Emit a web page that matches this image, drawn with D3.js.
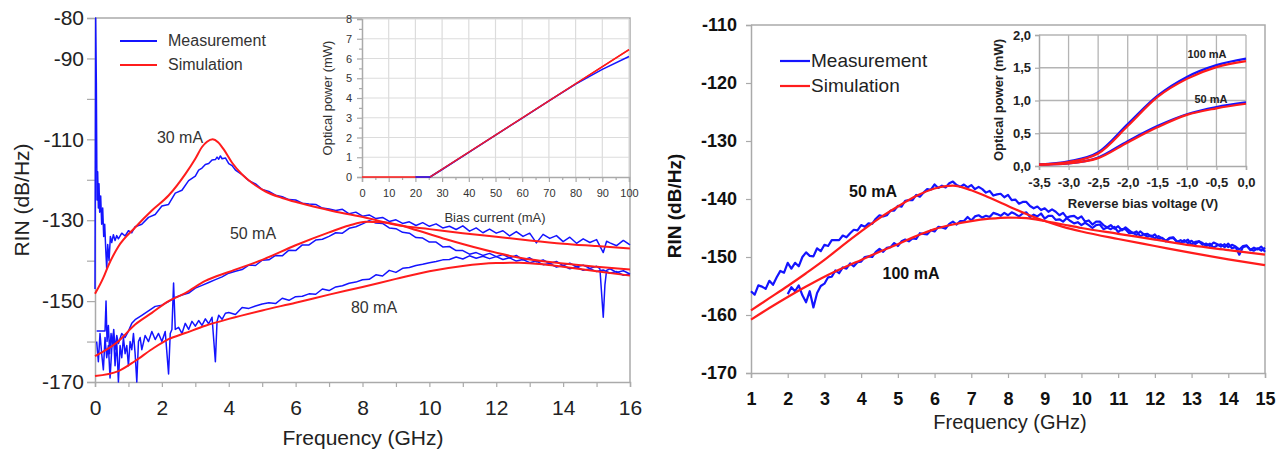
<!DOCTYPE html>
<html>
<head>
<meta charset="utf-8">
<script src="https://cdn.jsdelivr.net/npm/d3@7"></script>
<style>
  body { margin: 0; background: #fff; }
  svg { display: block; font-family: "Liberation Sans", Arial, sans-serif; }
</style>
</head>
<body>
<div id="container"></div>
<script>
/**
 * DATA
 * */
// left panel: RIN vs frequency, bias 30 / 50 / 80 mA
const leftXTicks = [0, 2, 4, 6, 8, 10, 12, 14, 16];
const leftYTicks = [-80, -90, -100, -110, -120, -130, -140, -150, -160, -170];
const leftYLabels = [-80, -90, -110, -130, -150, -170];

const meas30 = [[0,-147],[0.02,-80],[0.04,-96],[0.06,-125],[0.08,-118],[0.1,-127],[0.12,-121],[0.14,-128],[0.17,-124],[0.2,-131],[0.23,-127],[0.26,-134],[0.29,-131],[0.32,-137],[0.35,-142],[0.38,-136],[0.42,-140],[0.46,-134],[0.5,-135.5],[0.55,-133.6],[0.6,-135],[0.65,-133.8],[0.7,-134.6],[0.8,-133.2],[0.9,-133.9],[1.0,-132.6],[1.1,-133.1],
  [1.2,-131.6],[1.4,-131.0],[1.6,-129.3],[1.8,-128.6],[2.0,-126.5],[2.2,-126.1],[2.4,-123.3],[2.6,-122.6],[2.8,-120.2],[3.0,-119.1],[3.1,-117.6],[3.2,-117.1],[3.3,-116.2],[3.4,-116.0],[3.5,-115.1],[3.6,-115.0],[3.65,-114.4],[3.7,-114.9],[3.75,-114.1],[3.8,-114.8],[3.9,-114.6],[4.0,-116.0],[4.1,-116.5],[4.2,-117.6],[4.4,-118.7],[4.6,-120.2],[4.8,-121.0],[5.0,-122.4],[5.2,-122.9],[5.4,-123.8],[5.6,-124.2],[5.8,-124.9],[6.0,-125.0],[6.2,-125.8],[6.4,-126.0],[6.6,-126.1],[6.8,-127.0],[7.0,-127.2],[7.2,-127.6],[7.4,-127.3],[7.6,-128.4],[7.8,-128.0],[8.0,-129.0],[8.2,-128.7],[8.4,-129.6],[8.6,-129.3],[8.8,-130.3],[9.0,-129.9],[9.2,-130.8],[9.4,-130.4],[9.6,-131.3],[9.8,-130.6],[10.0,-131.5],[10.2,-130.9],[10.4,-131.9],[10.6,-131.5],[10.8,-132.3],[11.0,-131.4],[11.2,-132.7],[11.4,-131.9],[11.6,-133.1],[11.8,-132.2],[12.0,-133.2],[12.2,-132.6],[12.4,-133.9],[12.6,-132.8],[12.8,-134.0],[13.0,-133.2],[13.2,-135.6],[13.4,-133.5],[13.6,-134.5],[13.8,-133.8],[14.0,-135.3],[14.2,-134.2],[14.4,-135.7],[14.6,-134.6],[14.8,-135.5],[15.0,-134.8],[15.2,-138.0],[15.3,-135.2],[15.4,-135.6],[15.6,-136.3],[15.8,-135.0],[16.0,-136.1]];

const meas50 = [[0.05,-157.4],[0.3,-157.4],[0.33,-150],[0.36,-160],[0.4,-156],[0.44,-163],[0.48,-158],[0.52,-161],[0.56,-157],[0.6,-162],[0.65,-158.5],[0.7,-160.5],[0.8,-158],[0.9,-159],[1.0,-157.4],[1.1,-155.5],
  [1.2,-154.6],[1.4,-153.5],[1.6,-152.4],[1.8,-151.3],[2.0,-151.0],[2.2,-150.1],[2.4,-149.1],[2.6,-148.5],[2.8,-148.0],[3.0,-146.8],[3.2,-146.1],[3.4,-145.4],[3.6,-144.7],[3.8,-144.0],[4.0,-143.1],[4.2,-142.6],[4.4,-142.2],[4.6,-141.1],[4.8,-141.2],[5.0,-139.9],[5.2,-139.8],[5.4,-138.7],[5.6,-138.8],[5.8,-137.4],[6.0,-137.5],[6.2,-136.1],[6.4,-136.1],[6.6,-134.9],[6.8,-134.7],[7.0,-134.0],[7.2,-133.1],[7.4,-133.2],[7.6,-132.0],[7.8,-131.6],[8.0,-130.9],[8.2,-130.1],[8.4,-130.7],[8.6,-130.8],[8.8,-131.9],[9.0,-132.1],[9.2,-133.0],[9.4,-133.2],[9.6,-134.3],[9.8,-134.4],[10.0,-135.4],[10.2,-135.4],[10.4,-136.6],[10.6,-136.5],[10.8,-137.5],[11.0,-137.5],[11.2,-138.4],[11.4,-138.0],[11.6,-138.7],[11.8,-138.2],[12.0,-139.0],[12.2,-138.5],[12.4,-139.3],[12.6,-138.7],[12.8,-139.8],[13.0,-139.3],[13.2,-140.3],[13.4,-139.8],[13.6,-140.7],[13.8,-140.2],[14.0,-141.2],[14.2,-140.6],[14.4,-141.5],[14.6,-141.1],[14.8,-141.9],[15.0,-141.4],[15.1,-142.0],[15.15,-148],[15.2,-154],[15.25,-146],[15.3,-142.4],[15.4,-142.0],[15.6,-142.9],[15.8,-142.5],[16.0,-143.3]];

const meas80 = [[0.05,-160],[0.1,-165],[0.15,-158],[0.2,-163],[0.25,-167],[0.3,-159],[0.35,-164],[0.4,-161],[0.45,-169],[0.5,-162],[0.55,-158],[0.6,-166],[0.65,-160],[0.7,-170],[0.75,-161],[0.8,-164],[0.85,-159],[0.9,-163],[0.95,-161],[1.0,-166],[1.05,-160],[1.1,-162],[1.15,-158],[1.2,-163],[1.25,-170],[1.3,-160],[1.35,-159],[1.4,-162],[1.5,-158.5],[1.6,-160],[1.7,-157.5],[1.8,-159.5],[1.9,-158],[2.0,-160],[2.1,-157.5],[2.2,-168],[2.25,-158],[2.3,-157],[2.35,-145.5],[2.4,-157],[2.5,-156.5],[2.6,-158],[2.7,-155.5],[2.8,-157],[2.9,-155],[3.0,-156.2],[3.1,-154.8],[3.2,-156],[3.3,-154.4],[3.4,-155.6],[3.5,-154],[3.6,-165],[3.65,-155],[3.7,-153.5],[3.8,-154.5],[3.9,-153],
  [4.0,-152.8],[4.2,-153.3],[4.4,-151.6],[4.6,-151.8],[4.8,-151.2],[5.0,-150.7],[5.2,-150.4],[5.4,-150.6],[5.6,-149.3],[5.8,-149.8],[6.0,-148.9],[6.2,-148.8],[6.4,-148.2],[6.6,-148.3],[6.8,-147.0],[7.0,-147.4],[7.2,-146.5],[7.4,-146.2],[7.6,-145.6],[7.8,-145.3],[8.0,-144.7],[8.2,-144.6],[8.4,-143.5],[8.6,-143.8],[8.8,-142.4],[9.0,-142.9],[9.2,-141.9],[9.4,-141.7],[9.6,-141.2],[9.8,-140.9],[10.0,-140.5],[10.2,-140.2],[10.4,-139.8],[10.6,-139.7],[10.8,-139.1],[11.0,-139.6],[11.2,-138.8],[11.4,-139.4],[11.6,-138.9],[11.8,-139.5],[12.0,-139.0],[12.2,-139.7],[12.4,-139.3],[12.6,-140.1],[12.8,-139.7],[13.0,-140.5],[13.2,-140.1],[13.4,-141.0],[13.6,-140.7],[13.8,-141.6],[14.0,-141.2],[14.2,-142.0],[14.4,-141.5],[14.6,-142.4],[14.8,-142.0],[15.0,-142.7],[15.2,-142.3],[15.4,-143.1],[15.6,-142.7],[15.8,-143.6],[16.0,-143.3]];

const sim30 = [[0,-148.2],[0.25,-144.2],[0.4,-141.2],[0.7,-136.5],[1.2,-131.8],[1.7,-127.6],[2.2,-123.9],[2.7,-118.6],[3.0,-114.8],[3.2,-111.9],[3.35,-110.6],[3.52,-110.0],[3.68,-110.7],[3.85,-112.5],[4.1,-115.8],[4.4,-118.7],[4.7,-120.8],[5.1,-122.9],[5.6,-124.5],[6.1,-125.7],[7.1,-127.7],[8.1,-129.4],[9.1,-131.3],[10.0,-132.2],[11.0,-133.2],[12.0,-134.1],[13.0,-135.0],[14.0,-135.8],[15.0,-136.4],[16.0,-137.0]];
const sim50 = [[0,-163.6],[0.7,-159.9],[1.2,-155.8],[1.7,-152.9],[2.2,-150.0],[2.7,-148.0],[3.3,-145.0],[4.0,-142.8],[5.0,-139.8],[6.0,-136.2],[7.0,-133.0],[7.6,-131.3],[8.1,-130.4],[8.6,-130.5],[9.1,-131.2],[9.6,-132.4],[10.5,-134.7],[11.5,-137.0],[12.7,-139.3],[14.0,-140.7],[15.0,-141.5],[16.0,-142.2]];
const sim80 = [[0,-168.5],[0.7,-167.3],[1.2,-164.8],[1.7,-161.9],[2.2,-159.4],[2.7,-157.9],[3.3,-156.1],[4.0,-154.4],[5.0,-152.3],[6.0,-150.4],[7.0,-148.4],[8.0,-146.5],[9.0,-144.5],[10.0,-142.6],[11.0,-141.3],[12.0,-140.6],[12.7,-140.5],[13.5,-141.0],[14.0,-141.5],[15.0,-142.6],[16.0,-143.7]];

// left inset: optical power vs bias current
const insetLXTicks = [0, 10, 20, 30, 40, 50, 60, 70, 80, 90, 100];
const insetLYTicks = [0, 1, 2, 3, 4, 5, 6, 7, 8];
const liSim = [[0,0],[25.5,0],[100,6.45]];
const liMeas = [[20,0],[25.5,0],[30,0.38],[40,1.25],[50,2.12],[60,2.98],[70,3.85],[80,4.7],[90,5.45],[100,6.1]];

// right panel: RIN vs frequency, bias 50 / 100 mA
const rightXTicks = [1,2,3,4,5,6,7,8,9,10,11,12,13,14,15];
const rightYTicks = [-110, -120, -130, -140, -150, -160, -170];

const rMeas50 = [[1.0,-155.9],[1.1,-156.5],[1.2,-154.9],[1.3,-155.1],[1.4,-155.5],[1.5,-154.1],[1.6,-154.8],[1.7,-153.5],[1.8,-152.4],[1.9,-152.7],[2.0,-151.0],[2.1,-152.0],[2.2,-151.0],[2.3,-151.6],[2.4,-150.0],[2.5,-149.2],[2.6,-149.8],[2.7,-149.9],[2.8,-148.5],[2.9,-149.0],
  [3.0,-147.9],[3.1,-148.1],[3.2,-147.1],[3.3,-147.1],[3.4,-147.1],[3.5,-146.3],[3.6,-146.6],[3.7,-145.9],[3.8,-145.3],[3.9,-145.4],[4.0,-144.5],[4.1,-144.8],[4.2,-144.2],[4.3,-144.3],[4.4,-143.4],[4.5,-142.8],[4.6,-143.0],[4.7,-142.8],[4.8,-142.0],[4.9,-142.0],
  [5.0,-141.2],[5.1,-141.3],[5.2,-140.3],[5.3,-140.2],[5.4,-140.2],[5.5,-139.3],[5.6,-139.6],[5.7,-138.9],[5.8,-138.3],[5.9,-138.4],[6.0,-137.5],[6.1,-138.1],[6.2,-137.7],[6.3,-138.0],[6.4,-137.3],[6.5,-137.0],[6.6,-137.6],[6.7,-137.9],[6.8,-137.5],[6.9,-138.0],
  [7.0,-137.6],[7.1,-138.3],[7.2,-137.9],[7.3,-138.3],[7.4,-138.9],[7.5,-138.6],[7.6,-139.4],[7.7,-139.2],[7.8,-139.1],[7.9,-139.7],[8.0,-139.3],[8.1,-140.2],[8.2,-140.1],[8.3,-140.8],[8.4,-140.5],[8.5,-140.5],[8.6,-141.2],[8.7,-141.6],[8.8,-141.3],[8.9,-141.9],
  [9.0,-141.6],[9.1,-142.2],[9.2,-141.8],[9.3,-142.2],[9.4,-142.8],[9.5,-142.4],[9.6,-143.2],[9.7,-143.0],[9.8,-142.9],[9.9,-143.4],[10.0,-143.0],[10.1,-143.9],[10.2,-143.7],[10.3,-144.4],[10.4,-143.9],[10.5,-143.9],[10.6,-144.5],[10.7,-144.9],[10.8,-144.5],[10.9,-145.1],
  [11.0,-144.7],[11.1,-145.4],[11.2,-144.9],[11.3,-145.4],[11.4,-145.9],[11.5,-145.6],[11.6,-146.4],[11.7,-146.1],[11.8,-146.0],[11.9,-146.5],[12.0,-146.1],[12.1,-146.9],[12.2,-146.7],[12.3,-147.3],[12.4,-146.8],[12.5,-146.7],[12.6,-147.3],[12.7,-147.6],[12.8,-147.1],[12.9,-147.6],
  [13.0,-147.2],[13.1,-147.8],[13.2,-147.3],[13.3,-147.6],[13.4,-148.1],[13.5,-147.7],[13.6,-148.4],[13.7,-148.0],[13.8,-147.8],[13.9,-148.3],[14.0,-147.7],[14.1,-148.5],[14.2,-148.3],[14.3,-149.6],[14.4,-148.3],[14.5,-148.1],[14.6,-148.7],[14.7,-148.9],[14.8,-148.5],[14.9,-148.9],[15.0,-148.4]];

const rMeas100 = [[2.0,-156.4],[2.1,-155.2],[2.2,-155.9],[2.3,-154.9],[2.4,-156.6],[2.5,-157.8],[2.6,-155.9],[2.7,-158.7],[2.8,-156.2],[2.9,-155.0],
  [3.0,-154.6],[3.1,-153.5],[3.2,-153.4],[3.3,-152.3],[3.4,-152.8],[3.5,-151.8],[3.6,-152.0],[3.7,-151.1],[3.8,-151.6],[3.9,-150.9],[4.0,-150.8],[4.1,-150.0],[4.2,-149.9],[4.3,-150.0],[4.4,-149.1],[4.5,-148.6],[4.6,-149.1],[4.7,-148.4],[4.8,-148.3],[4.9,-147.6],
  [5.0,-148.1],[5.1,-147.3],[5.2,-147.0],[5.3,-147.3],[5.4,-146.8],[5.5,-146.9],[5.6,-145.9],[5.7,-146.0],[5.8,-146.1],[5.9,-145.4],[6.0,-145.6],[6.1,-144.8],[6.2,-144.9],[6.3,-145.1],[6.4,-144.3],[6.5,-143.9],[6.6,-144.4],[6.7,-143.8],[6.8,-143.8],[6.9,-143.1],
  [7.0,-143.7],[7.1,-143.0],[7.2,-142.8],[7.3,-143.2],[7.4,-142.9],[7.5,-143.1],[7.6,-142.4],[7.7,-142.6],[7.8,-142.9],[7.9,-142.4],[8.0,-142.8],[8.1,-142.3],[8.2,-142.6],[8.3,-143.0],[8.4,-142.5],[8.5,-142.3],[8.6,-143.1],[8.7,-142.7],[8.8,-143.0],[8.9,-142.5],
  [9.0,-143.4],[9.1,-142.9],[9.2,-142.9],[9.3,-143.6],[9.4,-143.5],[9.5,-143.9],[9.6,-143.3],[9.7,-143.8],[9.8,-144.2],[9.9,-144.0],[10.0,-144.5],[10.1,-144.1],[10.2,-144.5],[10.3,-145.0],[10.4,-144.5],[10.5,-144.4],[10.6,-145.2],[10.7,-144.9],[10.8,-145.2],[10.9,-144.8],
  [11.0,-145.7],[11.1,-145.2],[11.2,-145.2],[11.3,-145.9],[11.4,-145.8],[11.5,-146.2],[11.6,-145.6],[11.7,-146.1],[11.8,-146.5],[11.9,-146.3],[12.0,-146.8],[12.1,-146.4],[12.2,-146.8],[12.3,-147.2],[12.4,-146.7],[12.5,-146.6],[12.6,-147.4],[12.7,-147.1],[12.8,-147.4],[12.9,-147.0],
  [13.0,-147.9],[13.1,-147.4],[13.2,-147.3],[13.3,-147.9],[13.4,-147.7],[13.5,-148.1],[13.6,-147.5],[13.7,-147.8],[13.8,-148.2],[13.9,-147.8],[14.0,-148.3],[14.1,-147.9],[14.2,-148.2],[14.3,-148.7],[14.4,-148.1],[14.5,-148.0],[14.6,-148.8],[14.7,-148.4],[14.8,-148.7],[14.9,-148.2],[15.0,-149.1]];

const rSim50 = [[1.0,-159.2],[1.5,-157.1],[2.0,-155.0],[2.5,-152.8],[3.0,-150.5],[3.5,-148.0],[4.0,-145.6],[4.5,-143.3],[5.0,-141.3],[5.5,-139.5],[6.0,-138.2],[6.5,-137.7],[7.0,-138.5],[7.5,-139.8],[8.0,-141.2],[8.5,-142.6],[9.0,-143.8],[9.5,-144.8],[10.0,-145.6],[11.0,-146.9],[12.0,-148.1],[13.0,-149.3],[14.0,-150.4],[15.0,-151.4]];
const rSim100 = [[1.0,-160.8],[1.5,-158.8],[2.0,-156.9],[2.5,-155.1],[3.0,-153.4],[3.5,-151.9],[4.0,-150.5],[4.5,-149.1],[5.0,-147.8],[5.5,-146.4],[6.0,-145.2],[6.5,-144.4],[7.0,-143.8],[7.5,-143.4],[8.0,-143.2],[8.5,-143.3],[9.0,-143.8],[9.5,-144.4],[10.0,-145.0],[11.0,-146.0],[12.0,-147.0],[13.0,-148.0],[14.0,-148.8],[15.0,-149.6]];

// right inset: optical power vs reverse bias voltage
const riVolt = [-3.5, -3.0, -2.5, -2.0, -1.5, -1.0, -0.5, 0.0];
const riMeas100 = [0.02, 0.07, 0.21, 0.64, 1.07, 1.36, 1.54, 1.64];
const riSim100 = [0.02, 0.06, 0.19, 0.61, 1.05, 1.33, 1.51, 1.60];
const riMeas50 = [0.02, 0.04, 0.13, 0.38, 0.61, 0.79, 0.90, 0.97];
const riSim50 = [0.02, 0.04, 0.12, 0.36, 0.59, 0.78, 0.88, 0.95];
const riYTicks = [0, 0.5, 1, 1.5, 2];

/**
 * SETUP
 * */
const width = 1284, height = 451;
const BLUE = '#1414ff', RED = '#ff1c1c', FRAME = '#aaaaaa';
const FONT = '"Liberation Sans", Arial, sans-serif';
const comma = d => d.toFixed(1).replace('.', ',');   // plain hyphen, decimal comma
const plain = d => String(d);

const svg = d3.select('#container').append('svg')
  .attr('width', width)
  .attr('height', height);

function styleAxis(g, size, weight, color) {
  g.attr('font-family', FONT);
  g.select('.domain').attr('stroke', FRAME).attr('stroke-width', 1.5);
  g.selectAll('.tick line').attr('stroke', FRAME).attr('stroke-width', 1.2);
  g.selectAll('.tick text').attr('font-size', size).attr('font-weight', weight).attr('fill', color);
}

function drawLine(g, data, x, y, color, w, curve) {
  g.append('path')
    .datum(data)
    .attr('fill', 'none')
    .attr('stroke', color)
    .attr('stroke-width', w)
    .attr('stroke-linejoin', 'round')
    .attr('d', d3.line().x(d => x(d[0])).y(d => y(d[1])).curve(curve || d3.curveLinear));
}

/**
 * LEFT PANEL
 * */
const xL = d3.scaleLinear().domain([0, 16]).range([95, 630]);
const yL = d3.scaleLinear().domain([-170, -80]).range([382, 18]);
const left = svg.append('g');

// frame (top + right)
left.append('path')
  .attr('d', `M${xL(0)},${yL(-80)}H${xL(16)}V${yL(-170)}`)
  .attr('fill', 'none').attr('stroke', FRAME).attr('stroke-width', 1.5);

// inset grid / axes
const xLi = d3.scaleLinear().domain([0, 100]).range([362, 629]);
const yLi = d3.scaleLinear().domain([0, 8]).range([177, 19]);
const inL = left.append('g');
inL.selectAll('.vg').data(insetLXTicks.slice(1)).join('line')
  .attr('x1', d => xLi(d)).attr('x2', d => xLi(d)).attr('y1', yLi(0)).attr('y2', yLi(8))
  .attr('stroke', '#dcdcdc').attr('stroke-width', 1.2);
inL.selectAll('.hg').data(insetLYTicks.slice(1)).join('line')
  .attr('x1', xLi(0)).attr('x2', xLi(100)).attr('y1', d => yLi(d)).attr('y2', d => yLi(d))
  .attr('stroke', '#dcdcdc').attr('stroke-width', 1.2);
inL.append('g').attr('transform', `translate(0,${yLi(0)})`)
  .call(d3.axisBottom(xLi).tickValues(d3.range(0, 101, 5)).tickSize(5).tickPadding(7)
    .tickFormat(d => d % 10 === 0 ? d : ''))
  .call(g => styleAxis(g, 11, 'normal', '#333'))
  .call(g => g.selectAll('.tick').filter(d => d % 10 !== 0).select('line').attr('y2', 3));
inL.append('g').attr('transform', `translate(${xLi(0)},0)`)
  .call(d3.axisLeft(yLi).tickValues(d3.range(0, 8.01, 0.5)).tickSize(5).tickPadding(5)
    .tickFormat(d => Number.isInteger(d) ? d : ''))
  .call(g => styleAxis(g, 11, 'normal', '#333'))
  .call(g => g.selectAll('.tick').filter(d => !Number.isInteger(d)).select('line').attr('x2', -3));
drawLine(inL, liSim, xLi, yLi, RED, 1.5);
drawLine(inL, liMeas, xLi, yLi, BLUE, 1.5);
drawLine(inL, liSim.slice(1), xLi, yLi, RED, 1.3);
inL.append('text').attr('x', 495).attr('y', 222).attr('text-anchor', 'middle')
  .attr('font-size', 13).attr('fill', '#333').text('Bias current (mA)');
inL.append('text').attr('transform', 'translate(332,98) rotate(-90)').attr('text-anchor', 'middle')
  .attr('font-size', 13).attr('fill', '#333').text('Optical power (mW)');

// main axes
left.append('g').attr('transform', `translate(0,${yL(-170)})`)
  .call(d3.axisBottom(xL).tickValues(d3.range(0, 17, 1)).tickSize(5).tickPadding(13)
    .tickFormat(d => leftXTicks.includes(d) ? plain(d) : ''))
  .call(g => styleAxis(g, 21, 'normal', '#222'));
left.append('g').attr('transform', `translate(${xL(0)},0)`)
  .call(d3.axisLeft(yL).tickValues(leftYTicks).tickSize(8).tickPadding(3)
    .tickFormat(d => leftYLabels.includes(d) ? plain(d) : ''))
  .call(g => styleAxis(g, 21, 'normal', '#222'));

// curves
[meas30, meas50, meas80].forEach(s => drawLine(left, s, xL, yL, BLUE, 1.5));
[sim30, sim50, sim80].forEach(s => drawLine(left, s, xL, yL, RED, 2, d3.curveMonotoneX));

// labels
left.append('text').attr('transform', 'translate(29,200) rotate(-90)').attr('text-anchor', 'middle')
  .attr('font-size', 21).attr('fill', '#222').text('RIN (dB/Hz)');
left.append('text').attr('x', 363).attr('y', 445).attr('text-anchor', 'middle')
  .attr('font-size', 21).attr('fill', '#222').text('Frequency (GHz)');
[['30 mA', 180, 143], ['50 mA', 253, 239], ['80 mA', 374, 313]].forEach(([t, x, y]) =>
  left.append('text').attr('x', x).attr('y', y).attr('text-anchor', 'middle')
    .attr('font-size', 16).attr('fill', '#333').text(t));
[['Measurement', BLUE, 41], ['Simulation', RED, 65]].forEach(([t, c, y]) => {
  left.append('line').attr('x1', 120).attr('x2', 157).attr('y1', y).attr('y2', y)
    .attr('stroke', c).attr('stroke-width', 2.2);
  left.append('text').attr('x', 168).attr('y', y + 5).attr('font-size', 16).attr('fill', '#333').text(t);
});

/**
 * RIGHT PANEL
 * */
const xR = d3.scaleLinear().domain([1, 15]).range([751, 1265]);
const yR = d3.scaleLinear().domain([-170, -110]).range([373, 25]);
const right = svg.append('g');

right.append('path')
  .attr('d', `M${xR(1)},${yR(-110)}H${xR(15)}V${yR(-170)}`)
  .attr('fill', 'none').attr('stroke', FRAME).attr('stroke-width', 1.5);

right.append('g').attr('transform', `translate(0,${yR(-170)})`)
  .call(d3.axisBottom(xR).tickValues(rightXTicks).tickSize(5).tickPadding(14).tickFormat(plain))
  .call(g => styleAxis(g, 18, 'bold', '#111'));
right.append('g').attr('transform', `translate(${xR(1)},0)`)
  .call(d3.axisLeft(yR).tickValues(rightYTicks).tickSize(5).tickPadding(9).tickFormat(plain))
  .call(g => styleAxis(g, 18, 'bold', '#111'));

// inset
const xRi = d3.scaleLinear().domain([-3.5, 0]).range([1039, 1246]);
const yRi = d3.scaleLinear().domain([0, 2]).range([166, 35]);
const inR = right.append('g');
inR.selectAll('.vg').data(riVolt.slice(1)).join('line')
  .attr('x1', d => xRi(d)).attr('x2', d => xRi(d)).attr('y1', yRi(0)).attr('y2', yRi(2))
  .attr('stroke', '#b4b4b4').attr('stroke-width', 1.3);
inR.selectAll('.hg').data(riYTicks.slice(1)).join('line')
  .attr('x1', xRi(-3.5)).attr('x2', xRi(0)).attr('y1', d => yRi(d)).attr('y2', d => yRi(d))
  .attr('stroke', '#b4b4b4').attr('stroke-width', 1.3);
inR.append('g').attr('transform', `translate(0,${yRi(0)})`)
  .call(d3.axisBottom(xRi).tickValues(riVolt).tickSize(4).tickPadding(8).tickFormat(comma))
  .call(g => styleAxis(g, 13, 'bold', '#222'));
inR.append('g').attr('transform', `translate(${xRi(-3.5)},0)`)
  .call(d3.axisLeft(yRi).tickValues(riYTicks).tickSize(4).tickPadding(4).tickFormat(comma))
  .call(g => styleAxis(g, 13, 'bold', '#222'));
const zip = (a, b) => a.map((v, i) => [v, b[i]]);
drawLine(inR, zip(riVolt, riMeas100), xRi, yRi, BLUE, 2.2, d3.curveMonotoneX);
drawLine(inR, zip(riVolt, riMeas50), xRi, yRi, BLUE, 2.2, d3.curveMonotoneX);
drawLine(inR, zip(riVolt, riSim100), xRi, yRi, RED, 2.2, d3.curveMonotoneX);
drawLine(inR, zip(riVolt, riSim50), xRi, yRi, RED, 2.2, d3.curveMonotoneX);
inR.append('text').attr('x', 1143).attr('y', 208).attr('text-anchor', 'middle')
  .attr('font-size', 13).attr('font-weight', 'bold').attr('fill', '#222').text('Reverse  bias voltage (V)');
inR.append('text').attr('transform', 'translate(1003,100) rotate(-90)').attr('text-anchor', 'middle')
  .attr('font-size', 13).attr('font-weight', 'bold').attr('fill', '#222').text('Optical power (mW)');
[['100 mA', 1207, 58], ['50 mA', 1211, 103]].forEach(([t, x, y]) =>
  inR.append('text').attr('x', x).attr('y', y).attr('text-anchor', 'middle')
    .attr('font-size', 11).attr('font-weight', 'bold').attr('fill', '#222').text(t));

// main curves
[rMeas50, rMeas100].forEach(s => drawLine(right, s, xR, yR, BLUE, 2.2));
[rSim50, rSim100].forEach(s => drawLine(right, s, xR, yR, RED, 2.2, d3.curveMonotoneX));

right.append('text').attr('transform', 'translate(681,206) rotate(-90)').attr('text-anchor', 'middle')
  .attr('font-size', 19).attr('font-weight', 'bold').attr('fill', '#111').text('RIN (dB/Hz)');
right.append('text').attr('x', 1010).attr('y', 429).attr('text-anchor', 'middle')
  .attr('font-size', 20).attr('fill', '#222').text('Frequency (GHz)');
[['50 mA', 873, 197], ['100 mA', 911, 279]].forEach(([t, x, y]) =>
  right.append('text').attr('x', x).attr('y', y).attr('text-anchor', 'middle')
    .attr('font-size', 16).attr('font-weight', 'bold').attr('fill', '#111').text(t));
[['Measurement', BLUE, 61], ['Simulation', RED, 86]].forEach(([t, c, y]) => {
  right.append('line').attr('x1', 780).attr('x2', 810).attr('y1', y).attr('y2', y)
    .attr('stroke', c).attr('stroke-width', 2.2);
  right.append('text').attr('x', 811).attr('y', y + 6).attr('font-size', 19).attr('fill', '#222').text(t);
});
</script>
</body>
</html>
